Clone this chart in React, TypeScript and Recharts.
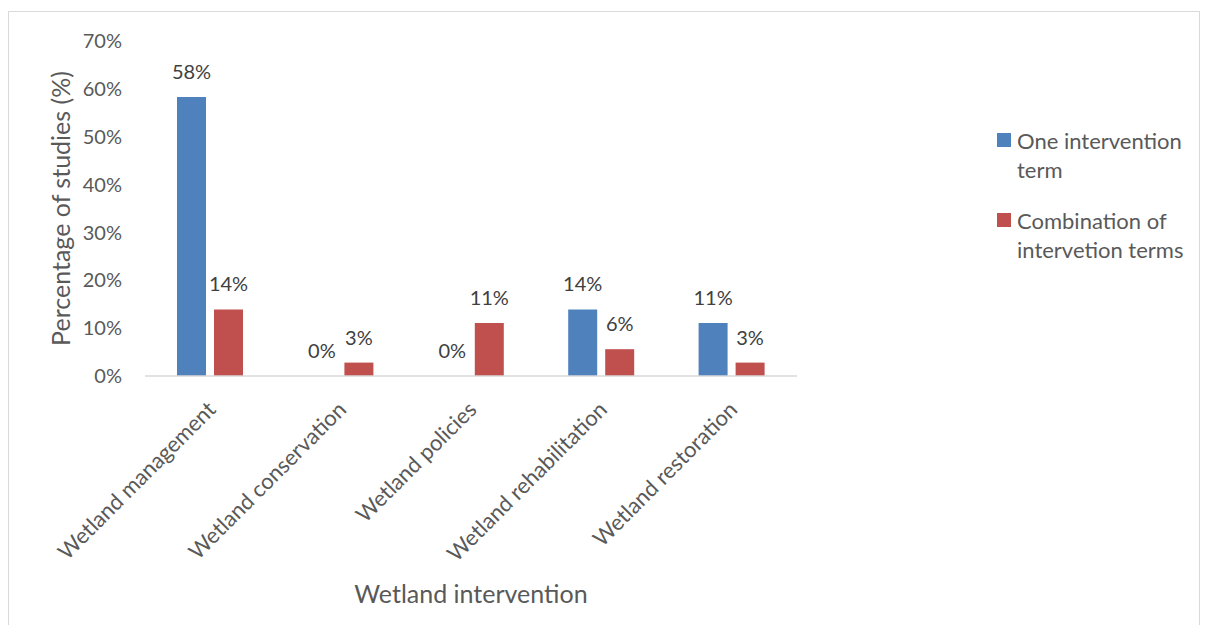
import { Bar, BarChart, LabelList, XAxis, YAxis, Label } from "recharts";

const categories = [
  "Wetland management",
  "Wetland conservation",
  "Wetland policies",
  "Wetland rehabilitation",
  "Wetland restoration",
];
const oneTerm = [58.3, 0, 0, 13.9, 11.1];
const combinedTerms = [13.9, 2.8, 11.1, 5.6, 2.8];
const yTicks = [0, 10, 20, 30, 40, 50, 60, 70];

const seriesNames = ["One intervention term", "Combination of intervetion terms"];
const legendLines = [
  ["One intervention", "term"],
  ["Combination of", "intervetion terms"],
];
const colors = ["#4F81BD", "#C0504D"];

const FONT = "Lato, 'Open Sans', sans-serif";
const AXIS_TEXT = "#595959";

const data = categories.map((name, i) => ({
  name,
  one: oneTerm[i],
  combined: combinedTerms[i],
}));

const pct = (v: any) => `${Math.round(Number(v))}%`;

const RotatedTick = (props: any) => {
  const { x, y, payload } = props;
  const ax = x + 7;
  const ay = y + 27;
  return (
    <text
      x={ax}
      y={ay}
      transform={`rotate(-45, ${ax}, ${ay})`}
      textAnchor="end"
      fill={AXIS_TEXT}
      fontSize={22}
      fontFamily={FONT}
    >
      {payload.value}
    </text>
  );
};

const ValueLabel = (props: any) => {
  const { x, y, width, value } = props;
  return (
    <text
      x={x + width / 2}
      y={y - 18}
      textAnchor="middle"
      fill="#404040"
      fontSize={20}
      fontFamily={FONT}
    >
      {pct(value)}
    </text>
  );
};

const App = () => {
  return (
    <div style={{ paddingTop: 3 }}>
      <div
        style={{
          position: "relative",
          width: 1190,
          border: "1px solid #D9D9D9",
          borderBottom: "none",
          background: "#fff",
        }}
      >
        <BarChart
          width={1190}
          height={613}
          data={data}
          margin={{ top: 29, right: 402, left: 0, bottom: 0 }}
          barSize={29}
          barGap={8}
        >
          <XAxis
            dataKey="name"
            height={249}
            interval={0}
            tickLine={false}
            axisLine={{ stroke: "#D9D9D9", strokeWidth: 1.5 }}
            tick={<RotatedTick />}
          >
            <Label
              content={(p: any) => {
                const vb = p.viewBox;
                return (
                  <text
                    x={vb.x + vb.width / 2}
                    y={vb.y + 217}
                    textAnchor="middle"
                    dominantBaseline="central"
                    fill={AXIS_TEXT}
                    fontSize={25}
                    fontFamily={FONT}
                  >
                    Wetland intervention
                  </text>
                );
              }}
            />
          </XAxis>
          <YAxis
            width={136}
            domain={[0, 70]}
            ticks={yTicks}
            tickFormatter={(v) => `${v}%`}
            tickLine={false}
            axisLine={false}
            tickSize={0}
            tickMargin={23}
            tick={{ fill: AXIS_TEXT, fontSize: 20, fontFamily: FONT }}
          >
            <Label
              content={(p: any) => {
                const vb = p.viewBox;
                const cx = 51;
                const cy = vb.y + vb.height / 2;
                return (
                  <text
                    x={cx}
                    y={cy}
                    transform={`rotate(-90, ${cx}, ${cy})`}
                    textAnchor="middle"
                    dominantBaseline="central"
                    fill={AXIS_TEXT}
                    fontSize={25}
                    fontFamily={FONT}
                  >
                    Percentage of studies (%)
                  </text>
                );
              }}
            />
          </YAxis>
          <Bar
            dataKey="one"
            name={seriesNames[0]}
            fill={colors[0]}
            minPointSize={0.01}
            isAnimationActive={false}
          >
            <LabelList dataKey="one" content={<ValueLabel />} />
          </Bar>
          <Bar
            dataKey="combined"
            name={seriesNames[1]}
            fill={colors[1]}
            minPointSize={0.01}
            isAnimationActive={false}
          >
            <LabelList dataKey="combined" content={<ValueLabel />} />
          </Bar>
        </BarChart>
        <div
          style={{
            position: "absolute",
            left: 988,
            top: 114,
            fontFamily: FONT,
            fontSize: 22,
            color: AXIS_TEXT,
            lineHeight: "29px",
          }}
        >
          {legendLines.map((lines, i) => (
            <div
              key={i}
              style={{ display: "flex", alignItems: "flex-start", marginBottom: i === 0 ? 22 : 0 }}
            >
              <span
                style={{
                  display: "inline-block",
                  width: 14,
                  height: 14,
                  marginTop: 7,
                  marginRight: 6,
                  background: colors[i],
                }}
              />
              <div>
                {lines.map((l) => (
                  <div key={l}>{l}</div>
                ))}
              </div>
            </div>
          ))}
        </div>
      </div>
    </div>
  );
};

export default App;
